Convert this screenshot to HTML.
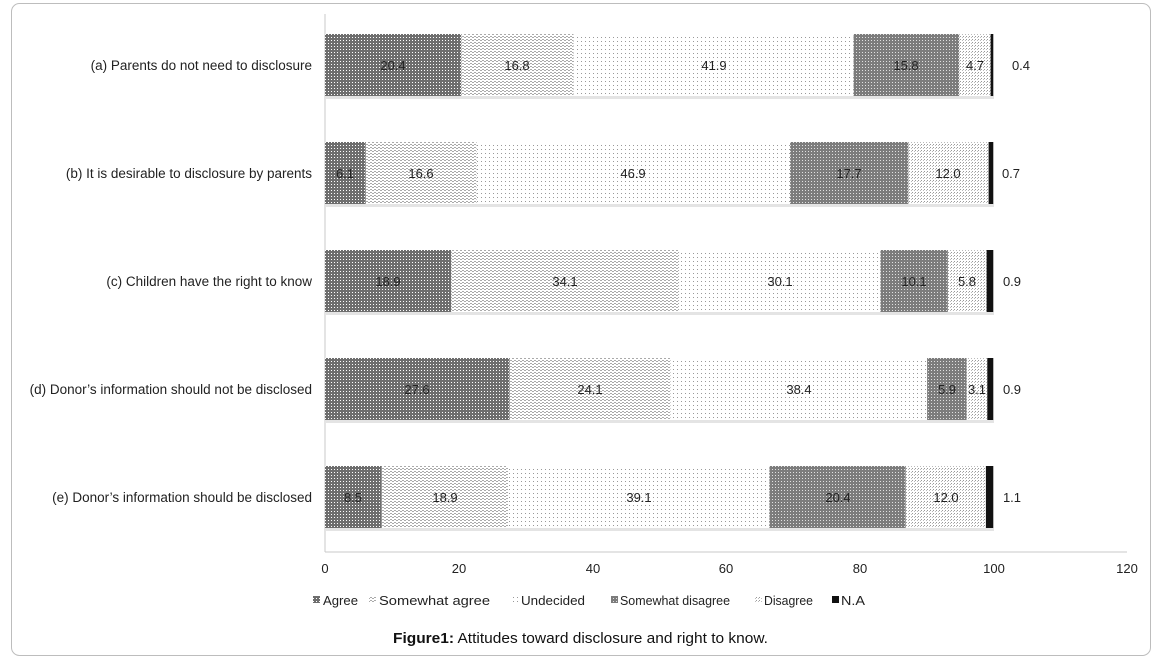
<!DOCTYPE html>
<html><head><meta charset="utf-8"><style>
html,body{margin:0;padding:0;background:#fff;}
svg{display:block;font-family:"Liberation Sans",sans-serif;}
</style></head><body>
<svg width="1162" height="662" viewBox="0 0 1162 662">
<defs>
<pattern id="pA" width="3" height="3" patternUnits="userSpaceOnUse"><rect width="3" height="3" fill="#6e6e6e"/><rect x="1" y="1" width="1" height="1" fill="#fff"/></pattern>
<pattern id="pSA" width="4" height="3" patternUnits="userSpaceOnUse"><rect width="4" height="3" fill="#fff"/><rect x="0" y="1" width="2" height="1" fill="#aaa"/><rect x="2" y="0" width="2" height="1" fill="#aaa"/></pattern>
<pattern id="pU" width="4" height="4" patternUnits="userSpaceOnUse"><rect width="4" height="4" fill="#fff"/><rect x="1" y="1" width="1" height="1" fill="#999"/></pattern>
<pattern id="pSD" width="3" height="3" patternUnits="userSpaceOnUse"><rect width="3" height="3" fill="#7c7c7c"/><rect x="1" y="1" width="1" height="1" fill="#e0e0e0"/></pattern>
<pattern id="pD" width="3" height="3" patternUnits="userSpaceOnUse"><rect width="3" height="3" fill="#fff"/><rect x="0" y="0" width="1" height="1" fill="#999"/><rect x="2" y="1" width="1" height="1" fill="#bbb"/></pattern>
</defs>
<rect x="11.5" y="3.5" width="1139" height="652" rx="8" fill="#fff" stroke="#bdbdbd"/>
<line x1="325" y1="14" x2="325" y2="552" stroke="#c8c8c8"/>
<line x1="325" y1="552" x2="1127" y2="552" stroke="#c8c8c8"/>
<g fill="#e4e4e4">
<rect x="326" y="96" width="668" height="3"/><rect x="326" y="204" width="668" height="3"/><rect x="326" y="312" width="668" height="3"/><rect x="326" y="420" width="668" height="3"/><rect x="326" y="528" width="668" height="3"/>
</g>
<g font-size="13" fill="#222">
<!-- a -->
<rect x="325" y="34" width="136.3" height="62" fill="url(#pA)"/>
<rect x="461.3" y="34" width="112.3" height="62" fill="url(#pSA)"/>
<rect x="573.6" y="34" width="280" height="62" fill="url(#pU)"/>
<rect x="853.6" y="34" width="105.6" height="62" fill="url(#pSD)"/>
<rect x="959.2" y="34" width="31.4" height="62" fill="url(#pD)"/>
<rect x="990.6" y="34" width="2.7" height="62" fill="#111"/>
<!-- b -->
<rect x="325" y="142" width="40.8" height="62" fill="url(#pA)"/>
<rect x="365.8" y="142" width="110.9" height="62" fill="url(#pSA)"/>
<rect x="476.7" y="142" width="313.4" height="62" fill="url(#pU)"/>
<rect x="790.1" y="142" width="118.3" height="62" fill="url(#pSD)"/>
<rect x="908.4" y="142" width="80.2" height="62" fill="url(#pD)"/>
<rect x="988.6" y="142" width="4.7" height="62" fill="#111"/>
<!-- c -->
<rect x="325" y="250" width="126.3" height="62" fill="url(#pA)"/>
<rect x="451.3" y="250" width="227.9" height="62" fill="url(#pSA)"/>
<rect x="679.2" y="250" width="201.2" height="62" fill="url(#pU)"/>
<rect x="880.4" y="250" width="67.5" height="62" fill="url(#pSD)"/>
<rect x="947.9" y="250" width="38.7" height="62" fill="url(#pD)"/>
<rect x="986.6" y="250" width="6.7" height="62" fill="#111"/>
<!-- d -->
<rect x="325" y="358" width="184.5" height="62" fill="url(#pA)"/>
<rect x="509.5" y="358" width="161" height="62" fill="url(#pSA)"/>
<rect x="670.5" y="358" width="256.6" height="62" fill="url(#pU)"/>
<rect x="927.1" y="358" width="39.5" height="62" fill="url(#pSD)"/>
<rect x="966.6" y="358" width="20.7" height="62" fill="url(#pD)"/>
<rect x="987.3" y="358" width="6" height="62" fill="#111"/>
<!-- e -->
<rect x="325" y="466" width="56.8" height="62" fill="url(#pA)"/>
<rect x="381.8" y="466" width="126.3" height="62" fill="url(#pSA)"/>
<rect x="508.1" y="466" width="261.3" height="62" fill="url(#pU)"/>
<rect x="769.4" y="466" width="136.4" height="62" fill="url(#pSD)"/>
<rect x="905.8" y="466" width="80.1" height="62" fill="url(#pD)"/>
<rect x="985.9" y="466" width="7.4" height="62" fill="#111"/>
<g text-anchor="middle">
<text x="393" y="70">20.4</text><text x="517" y="70">16.8</text><text x="714" y="70">41.9</text><text x="906" y="70">15.8</text><text x="975" y="70">4.7</text><text x="1021" y="70">0.4</text>
<text x="345" y="178">6.1</text><text x="421" y="178">16.6</text><text x="633" y="178">46.9</text><text x="849" y="178">17.7</text><text x="948" y="178">12.0</text><text x="1011" y="178">0.7</text>
<text x="388" y="286">18.9</text><text x="565" y="286">34.1</text><text x="780" y="286">30.1</text><text x="914" y="286">10.1</text><text x="967" y="286">5.8</text><text x="1012" y="286">0.9</text>
<text x="417" y="394">27.6</text><text x="590" y="394">24.1</text><text x="799" y="394">38.4</text><text x="947" y="394">5.9</text><text x="977" y="394">3.1</text><text x="1012" y="394">0.9</text>
<text x="353" y="502">8.5</text><text x="445" y="502">18.9</text><text x="639" y="502">39.1</text><text x="838" y="502">20.4</text><text x="946" y="502">12.0</text><text x="1012" y="502">1.1</text>
</g>
<g text-anchor="end" font-size="13.5">
<text x="312" y="70">(a) Parents do not need to disclosure</text>
<text x="312" y="178">(b) It is desirable to disclosure by parents</text>
<text x="312" y="286">(c) Children have the right to know</text>
<text x="312" y="394">(d) Donor’s information should not be disclosed</text>
<text x="312" y="502">(e) Donor’s information should be disclosed</text>
</g>
<g text-anchor="middle">
<text x="325" y="573">0</text><text x="459" y="573">20</text><text x="593" y="573">40</text><text x="726" y="573">60</text><text x="860" y="573">80</text><text x="994" y="573">100</text><text x="1127" y="573">120</text>
</g>
<g font-size="13">
<rect x="313" y="596" width="7" height="7" fill="url(#pA)"/><text x="323" y="605" textLength="35" lengthAdjust="spacingAndGlyphs">Agree</text>
<rect x="369" y="596" width="7" height="7" fill="url(#pSA)"/><text x="379" y="605" textLength="111" lengthAdjust="spacingAndGlyphs">Somewhat agree</text>
<rect x="512" y="596" width="7" height="7" fill="url(#pU)"/><text x="521" y="605" textLength="64" lengthAdjust="spacingAndGlyphs">Undecided</text>
<rect x="611" y="596" width="7" height="7" fill="url(#pSD)"/><text x="620" y="605" textLength="110" lengthAdjust="spacingAndGlyphs">Somewhat disagree</text>
<rect x="755" y="596" width="7" height="7" fill="url(#pD)"/><text x="764" y="605" textLength="49" lengthAdjust="spacingAndGlyphs">Disagree</text>
<rect x="832" y="596" width="7" height="7" fill="#111"/><text x="841" y="605" textLength="24" lengthAdjust="spacingAndGlyphs">N.A</text>
</g>
</g>
<text x="393" y="643" font-size="14.5" fill="#111" textLength="375" lengthAdjust="spacingAndGlyphs"><tspan font-weight="bold">Figure1:</tspan> Attitudes toward disclosure and right to know.</text>
</svg>
</body></html>
